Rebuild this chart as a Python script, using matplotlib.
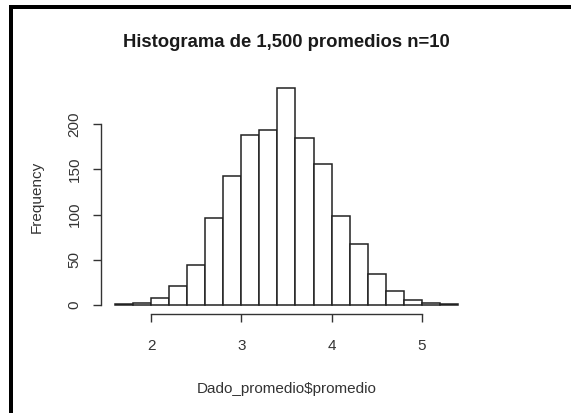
import matplotlib.pyplot as plt
from matplotlib.patches import Rectangle

plt.rcParams['font.family'] = ['Liberation Sans', 'DejaVu Sans']

# limites de las clases (ancho 0.2) y frecuencias de cada una
bordes = [1.6, 1.8, 2.0, 2.2, 2.4, 2.6, 2.8, 3.0, 3.2, 3.4,
          3.6, 3.8, 4.0, 4.2, 4.4, 4.6, 4.8, 5.0, 5.2, 5.4]
frecuencias = [1, 2, 8, 21, 44, 96, 143, 188, 193, 240,
               185, 156, 98, 67, 34, 16, 5, 2, 1]

xticks = [2, 3, 4, 5]
yticks = [0, 50, 100, 150, 200]

gris = '#333333'

fig = plt.figure(figsize=(5.71, 4.13), dpi=100)
fig.patch.set_facecolor('white')
ax = fig.add_axes([0.1772, 0.2404, 0.8261 - 0.1772, 0.8085 - 0.2404])

anchos = [b - a for a, b in zip(bordes[:-1], bordes[1:])]
ax.bar(bordes[:-1], frecuencias, width=anchos, align='edge',
       facecolor='white', edgecolor='#222222', linewidth=1.1)

# rango con el 4% extra a cada lado, como en R
xr = bordes[-1] - bordes[0]
ax.set_xlim(bordes[0] - 0.04 * xr, bordes[-1] + 0.04 * xr)
ym = max(frecuencias)
ax.set_ylim(-0.04 * ym, ym * 1.04)

for s in ['top', 'right']:
    ax.spines[s].set_visible(False)
for s in ['left', 'bottom']:
    ax.spines[s].set_color(gris)
    ax.spines[s].set_linewidth(1.0)
ax.spines['left'].set_bounds(yticks[0], yticks[-1])
ax.spines['bottom'].set_bounds(xticks[0], xticks[-1])

ax.set_xticks(xticks)
ax.set_yticks(yticks)
ax.set_yticklabels([str(v) for v in yticks], rotation=90, va='center')
ax.tick_params(axis='both', direction='out', length=6, width=1.0,
               color=gris, labelcolor=gris, labelsize=11)
ax.tick_params(axis='x', pad=12)
ax.tick_params(axis='y', pad=8)

ax.set_title('Histograma de 1,500 promedios n=10', fontsize=13.3,
             fontweight='bold', color='#1a1a1a', pad=23)
ax.set_xlabel('Dado_promedio$promedio', fontsize=11, color=gris, labelpad=21)
ax.set_ylabel('Frequency', fontsize=11, color=gris, labelpad=17)

# marco negro de la captura (arriba e izquierda)
fig.add_artist(Rectangle((9 / 571, 1 - 9 / 413), 1, 4 / 413,
                         transform=fig.transFigure, color='black', lw=0))
fig.add_artist(Rectangle((9 / 571, 0), 4 / 571, 1 - 5 / 413,
                         transform=fig.transFigure, color='black', lw=0))

fig.savefig('out.png', dpi=100)
